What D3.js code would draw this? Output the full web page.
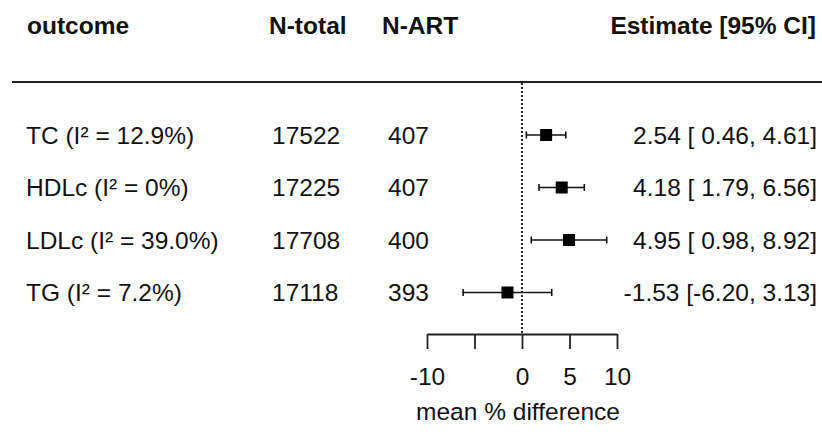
<!DOCTYPE html>
<html>
<head>
<meta charset="utf-8">
<script src="https://cdn.jsdelivr.net/npm/d3@7"></script>
<style>
    html, body { margin: 0; padding: 0; background: #fff; }
    svg text { font-family: "Liberation Sans", Arial, sans-serif; fill: #111; }
    .hdr { font-weight: bold; }
</style>
</head>
<body>
<div id="chart"></div>
<script>

/* chart data */
const outcomes = ["TC", "HDLc", "LDLc", "TG"];
const iSquared = ["12.9", "0", "39.0", "7.2"];
const nTotal = [17522, 17225, 17708, 17118];
const nArt = [407, 407, 400, 393];
const estimates = [2.54, 4.18, 4.95, -1.53];
const ciLower = [0.46, 1.79, 0.98, -6.20];
const ciUpper = [4.61, 6.56, 8.92, 3.13];
const xTicks = [-10, -5, 0, 5, 10];
const xTickLabels = ["-10", "", "0", "5", "10"];

const width = 822;
const height = 437;
const fontSize = 24.5;

const rows = outcomes.map((d, i) => ({
    outcome: d,
    i2: iSquared[i],
    nTotal: nTotal[i],
    nArt: nArt[i],
    est: estimates[i],
    lo: ciLower[i],
    hi: ciUpper[i]
}));

/* scales */
const xScale = d3.scaleLinear().domain([-10, 10]).range([427, 617]);
const yScale = d3.scalePoint().domain(outcomes).range([135, 292.5]);
const axisY = 334;

const svg = d3.select("#chart")
    .append("svg")
    .attr("width", width)
    .attr("height", height)
    .style("font-size", fontSize + "px");

/* header */
const header = svg.append("g").attr("class", "hdr");
header.append("text").text("outcome").attr("x", 27).attr("y", 34);
header.append("text").text("N-total").attr("x", 269).attr("y", 34);
header.append("text").text("N-ART").attr("x", 382).attr("y", 34);
header.append("text").text("Estimate [95% CI]")
    .attr("x", 816).attr("y", 34).attr("text-anchor", "end");

svg.append("line")
    .attr("x1", 12).attr("x2", width)
    .attr("y1", 82).attr("y2", 82)
    .attr("stroke", "#222").attr("stroke-width", 2);

/* reference line at zero */
svg.append("line")
    .attr("x1", xScale(0)).attr("x2", xScale(0))
    .attr("y1", 83).attr("y2", axisY)
    .attr("stroke", "#222")
    .attr("stroke-width", 2)
    .attr("stroke-dasharray", "2,2");

/* text columns (plain hyphen as minus, like the R output) */
const fmt = v => v.toFixed(2);
const fmtLo = v => (v < 0 ? "" : " ") + fmt(v);

const rowGroups = svg.append("g").selectAll("g")
    .data(rows)
    .join("g")
    .attr("transform", d => `translate(0, ${yScale(d.outcome)})`);

rowGroups.append("text")
    .attr("x", 26).attr("dy", "0.35em")
    .text(d => `${d.outcome} (I² = ${d.i2}%)`);

rowGroups.append("text")
    .attr("x", 272).attr("dy", "0.35em")
    .text(d => d.nTotal);

rowGroups.append("text")
    .attr("x", 388).attr("dy", "0.35em")
    .text(d => d.nArt);

rowGroups.append("text")
    .attr("x", 817).attr("dy", "0.35em")
    .attr("text-anchor", "end")
    .style("white-space", "pre")
    .text(d => `${fmt(d.est)} [${fmtLo(d.lo)}, ${fmt(d.hi)}]`);

/* CI whiskers with caps */
const capH = 3.5;
rowGroups.append("line")
    .attr("x1", d => xScale(d.lo)).attr("x2", d => xScale(d.hi))
    .attr("stroke", "#111").attr("stroke-width", 1.6);
rowGroups.append("line")
    .attr("x1", d => xScale(d.lo)).attr("x2", d => xScale(d.lo))
    .attr("y1", -capH).attr("y2", capH)
    .attr("stroke", "#111").attr("stroke-width", 1.6);
rowGroups.append("line")
    .attr("x1", d => xScale(d.hi)).attr("x2", d => xScale(d.hi))
    .attr("y1", -capH).attr("y2", capH)
    .attr("stroke", "#111").attr("stroke-width", 1.6);

/* point estimate boxes */
const boxSize = 12;
rowGroups.append("rect")
    .attr("x", d => xScale(d.est) - boxSize / 2)
    .attr("y", -boxSize / 2)
    .attr("width", boxSize).attr("height", boxSize)
    .attr("fill", "#000");

/* x-axis */
const xAxisGroup = svg.append("g")
    .attr("transform", `translate(0, ${axisY})`)
    .call(d3.axisBottom(xScale)
        .tickValues(xTicks)
        .tickFormat((d, i) => xTickLabels[i])
        .tickSize(15)
        .tickSizeOuter(0)
        .tickPadding(19));

xAxisGroup.selectAll("path, line")
    .attr("stroke", "#222").attr("stroke-width", 1.8);
xAxisGroup.selectAll("text")
    .attr("fill", "#111")
    .style("font-size", fontSize + "px")
    .style("font-family", "'Liberation Sans', Arial, sans-serif");

svg.append("text")
    .text("mean % difference")
    .attr("x", 518).attr("y", 420)
    .attr("text-anchor", "middle");

</script>
</body>
</html>
